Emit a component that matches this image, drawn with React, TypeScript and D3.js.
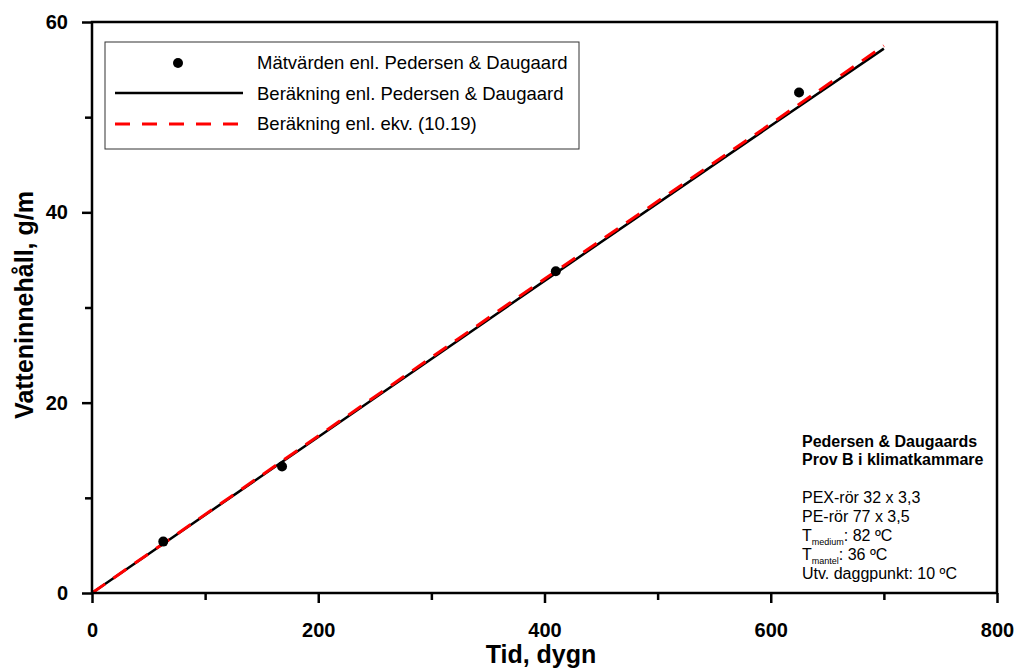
import React, { useEffect, useRef } from "react";
import * as d3 from "d3";

const width = 1015;
const height = 668;
const margin = { top: 22, right: 18, bottom: 75, left: 92 };

// measured values (Pedersen & Daugaard)
const measDays = [63, 168, 410, 625];
const measWater = [5.4, 13.3, 33.8, 52.6];

// calculated, Pedersen & Daugaard
const calcPD = [
  [0, 0],
  [200, 16.4],
  [400, 32.8],
  [600, 49.1],
  [700, 57.2],
];

// calculated, ekv. (10.19)
const calcEq = [
  [0, 0],
  [200, 16.5],
  [400, 33.0],
  [600, 49.3],
  [700, 57.5],
];

const xMajor = [0, 200, 400, 600, 800];
const xMinor = [100, 300, 500, 700];
const yMajor = [0, 20, 40, 60];
const yMinor = [10, 30, 50];

const legendLabels = [
  "Mätvärden enl. Pedersen & Daugaard",
  "Beräkning enl. Pedersen & Daugaard",
  "Beräkning enl. ekv. (10.19)",
];

const font = "Arial, 'Liberation Sans', sans-serif";

export default function App() {
  const xAxisRef = useRef<SVGGElement>(null);
  const xMinorRef = useRef<SVGGElement>(null);
  const yAxisRef = useRef<SVGGElement>(null);
  const yMinorRef = useRef<SVGGElement>(null);

  const xScale = d3
    .scaleLinear()
    .domain([0, 800])
    .range([margin.left, width - margin.right]);
  const yScale = d3
    .scaleLinear()
    .domain([0, 60])
    .range([height - margin.bottom, margin.top]);

  const line = d3
    .line<number[]>()
    .x((d) => xScale(d[0]))
    .y((d) => yScale(d[1]));

  useEffect(() => {
    const style = (g: any) => {
      g.select(".domain").remove();
      g.selectAll("line").attr("stroke", "#000").attr("stroke-width", 2.5);
      g.selectAll("text")
        .attr("fill", "#000")
        .style("font-family", font)
        .style("font-size", "20px")
        .style("font-weight", "bold");
    };

    d3.select(xAxisRef.current)
      .call(
        d3.axisBottom(xScale).tickValues(xMajor).tickSize(10).tickSizeOuter(0).tickPadding(20)
      )
      .call(style);
    d3.select(xMinorRef.current)
      .call(
        d3.axisBottom(xScale).tickValues(xMinor).tickSize(7).tickSizeOuter(0).tickFormat(() => "")
      )
      .call(style);
    d3.select(yAxisRef.current)
      .call(
        d3.axisLeft(yScale).tickValues(yMajor).tickSize(10).tickSizeOuter(0).tickPadding(14)
      )
      .call(style);
    d3.select(yMinorRef.current)
      .call(
        d3.axisLeft(yScale).tickValues(yMinor).tickSize(7).tickSizeOuter(0).tickFormat(() => "")
      )
      .call(style);
  }, []);

  const x0 = margin.left;
  const y0 = height - margin.bottom;
  const annX = 802;

  return (
    <svg
      width={width}
      height={height}
      style={{ position: "absolute", left: 0, top: 0, background: "#fff" }}
    >
      <rect x={0} y={0} width={width} height={height} fill="#fff" />

      {/* series */}
      <path d={line(calcPD) || ""} fill="none" stroke="#000" strokeWidth={2.5} />
      <path
        d={line(calcEq) || ""}
        fill="none"
        stroke="#ff0000"
        strokeWidth={3}
        strokeDasharray="16 10"
      />
      {measDays.map((d, i) => (
        <circle key={i} cx={xScale(d)} cy={yScale(measWater[i])} r={5} fill="#000" />
      ))}

      {/* frame */}
      <rect
        x={x0}
        y={margin.top}
        width={width - margin.right - margin.left}
        height={y0 - margin.top}
        fill="none"
        stroke="#000"
        strokeWidth={2.5}
      />
      <g ref={xAxisRef} transform={`translate(0, ${y0})`} />
      <g ref={xMinorRef} transform={`translate(0, ${y0})`} />
      <g ref={yAxisRef} transform={`translate(${x0}, 0)`} />
      <g ref={yMinorRef} transform={`translate(${x0}, 0)`} />

      {/* axis titles */}
      <text
        x={541}
        y={663}
        textAnchor="middle"
        fontFamily={font}
        fontSize={25}
        fontWeight="bold"
      >
        Tid, dygn
      </text>
      <text
        transform="translate(33, 305) rotate(-90)"
        textAnchor="middle"
        fontFamily={font}
        fontSize={25}
        fontWeight="bold"
      >
        Vatteninnehåll, g/m
      </text>

      {/* legend */}
      <rect x={105} y={42} width={474} height={107} fill="#fff" stroke="#333" strokeWidth={1} />
      <circle cx={178} cy={63} r={5} fill="#000" />
      <line x1={115} x2={243} y1={93} y2={93} stroke="#000" strokeWidth={2.5} />
      <line
        x1={115}
        x2={243}
        y1={124}
        y2={124}
        stroke="#ff0000"
        strokeWidth={3}
        strokeDasharray="15 12"
      />
      {legendLabels.map((t, i) => (
        <text key={t} x={257} y={69 + i * 30.5} fontFamily={font} fontSize={18.5} fill="#000">
          {t}
        </text>
      ))}

      {/* annotation */}
      <g fontFamily={font} fontSize={16} fill="#000">
        <text x={annX} y={447} fontWeight="bold">
          Pedersen &amp; Daugaards
        </text>
        <text x={annX} y={465} fontWeight="bold">
          Prov B i klimatkammare
        </text>
        <text x={annX} y={503}>PEX-rör 32 x 3,3</text>
        <text x={annX} y={522}>PE-rör 77 x 3,5</text>
        <text x={annX} y={541}>
          T
          <tspan fontSize={9} dy={4}>
            medium
          </tspan>
          <tspan dy={-4}>: 82 ºC</tspan>
        </text>
        <text x={annX} y={560}>
          T
          <tspan fontSize={9} dy={4}>
            mantel
          </tspan>
          <tspan dy={-4}>: 36 ºC</tspan>
        </text>
        <text x={annX} y={579}>Utv. daggpunkt: 10 ºC</text>
      </g>
    </svg>
  );
}
